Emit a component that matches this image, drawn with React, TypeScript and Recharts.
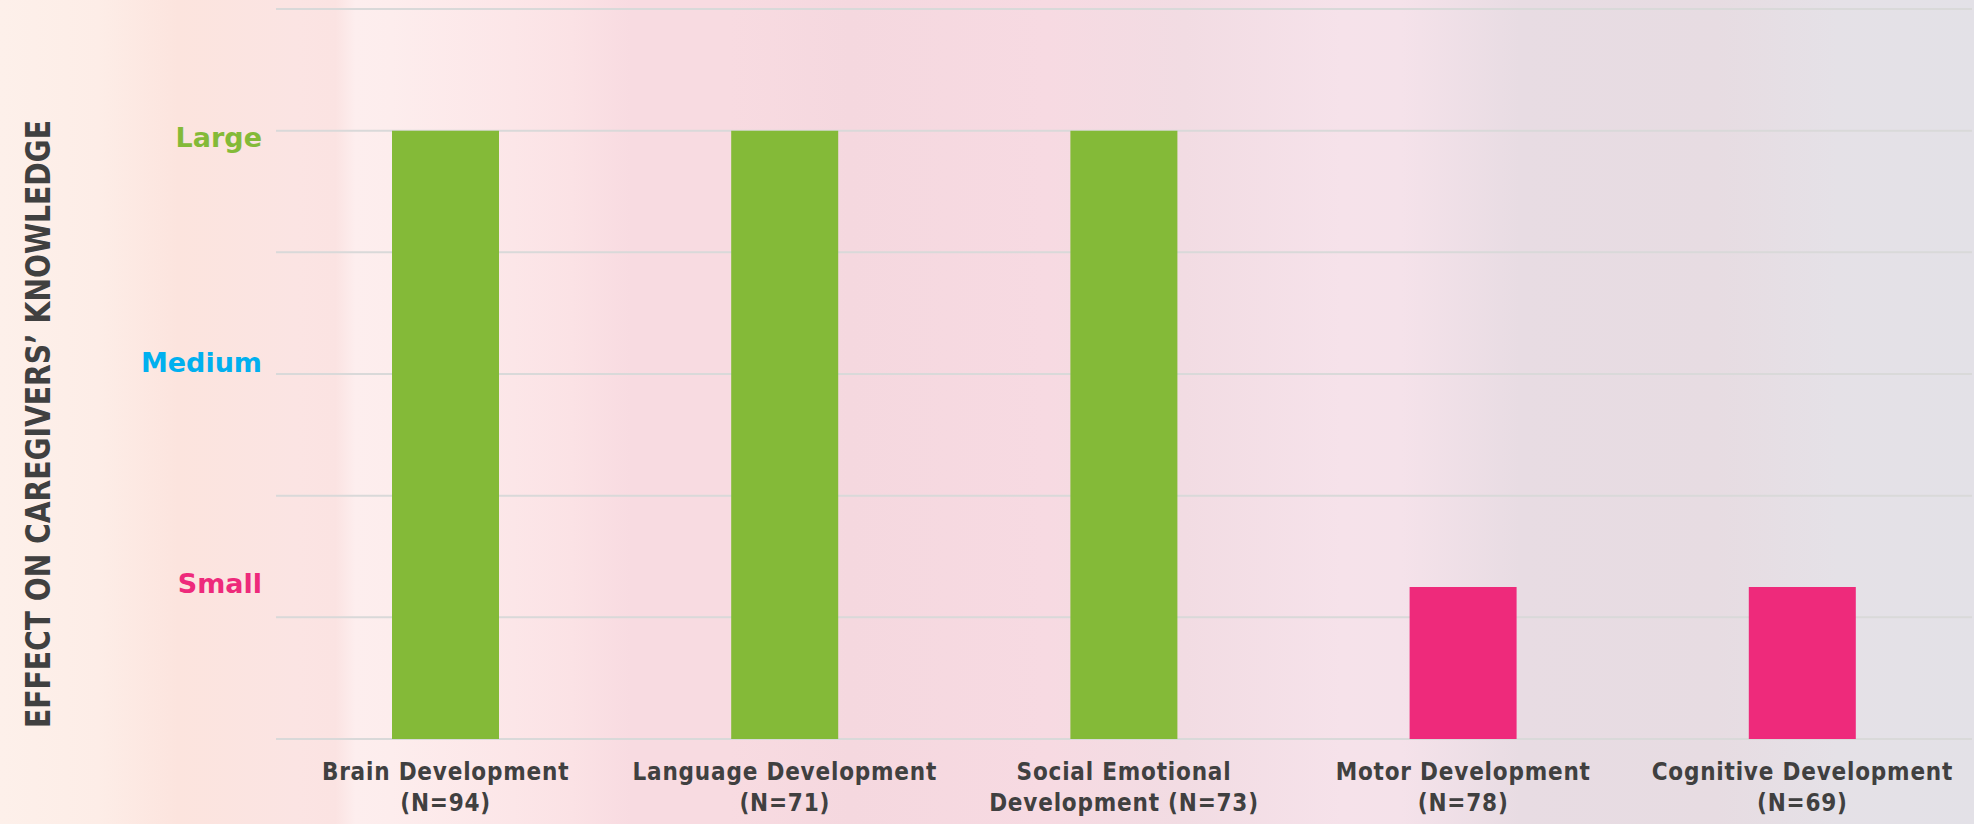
import React from 'react';
import { BarChart, Bar, XAxis, YAxis, CartesianGrid, Cell } from 'recharts';

const categories = ['Brain Development', 'Language Development', 'Social Emotional Development', 'Motor Development', 'Cognitive Development'];
const labelLine1 = ['Brain Development', 'Language Development', 'Social Emotional', 'Motor Development', 'Cognitive Development'];
const labelLine2 = ['(N=94)', '(N=71)', 'Development (N=73)', '(N=78)', '(N=69)'];
const effectValues = [5, 5, 5, 1.25, 1.25];
const effectLevels = ['Large', 'Large', 'Large', 'Small', 'Small'];
const gridValues = [0, 1, 2, 3, 4, 5, 6];
const yTickValues = [1.28, 3.1, 4.95];
const yTickLabels = ['Small', 'Medium', 'Large'];
const yTitle = 'EFFECT ON CAREGIVERS\u2019 KNOWLEDGE';

const levelColors: Record<string, string> = {
  Large: '#84BA38',
  Medium: '#00B0EF',
  Small: '#EE2A7B',
};

const data = categories.map((c, i) => ({
  name: c,
  line1: labelLine1[i],
  line2: labelLine2[i],
  value: effectValues[i],
  level: effectLevels[i],
}));

const condensed = "'DejaVu Sans Condensed', 'Liberation Sans Narrow', 'DejaVu Sans', sans-serif";
const geometric = "'DejaVu Sans', 'Lato', sans-serif";

const XTick = (props: any) => {
  const { x, y, index } = props;
  return (
    <g>
      <text x={x} y={y + 33} textAnchor="middle" fill="#404040" fontFamily={condensed} fontWeight="bold" fontSize={24} letterSpacing={0.8} style={{ fontStretch: 'condensed' }}>
        {labelLine1[index]}
      </text>
      <text x={x} y={y + 64} textAnchor="middle" fill="#404040" fontFamily={condensed} fontWeight="bold" fontSize={24} letterSpacing={0.8} style={{ fontStretch: 'condensed' }}>
        {labelLine2[index]}
      </text>
    </g>
  );
};

const YTick = (props: any) => {
  const { x, y, payload } = props;
  const i = yTickValues.indexOf(payload.value);
  const label = yTickLabels[i];
  return (
    <text x={x} y={y} dy={10} textAnchor="end" fill={levelColors[label]} fontFamily={geometric} fontWeight="bold" fontSize={27}>
      {label}
    </text>
  );
};

const YTitle = (props: any) => {
  const { viewBox } = props;
  const cx = viewBox.x + 38;
  const cy = viewBox.y + viewBox.height / 2 + 50;
  return (
    <text x={cx} y={cy} transform={`rotate(-90, ${cx}, ${cy})`} textAnchor="middle" dominantBaseline="central" fill="#404040" fontFamily={condensed} fontWeight="bold" fontSize={33} textLength={608} lengthAdjust="spacingAndGlyphs" style={{ fontStretch: 'condensed' }}>
      {yTitle}
    </text>
  );
};

const background =
  'linear-gradient(to right, #FDF0EA 0%, #FDEDE7 5%, #FCE4DE 9%, #FBE4E3 15%, #FBE3E2 17%, #FDEEEE 18%, #FDEDED 19.8%, #FCE6E8 26%, #FBE2E5 29%, #F8DBE1 32%, #F8DBE1 37%, #F5D8DF 43%, #F7DAE2 53%, #F2DCE3 60%, #F6E2EA 68%, #F5E2EA 71%, #E8DCE3 77%, #E7DCE2 87%, #E5E1E7 93%, #E3E1E7 100%)';

export default function App() {
  return (
    <div style={{ position: 'absolute', left: 0, top: 0, width: 1974, height: 824, background }}>
      <BarChart width={1974} height={824} data={data} margin={{ top: 9, right: 2, bottom: 0, left: 0 }}>
        <CartesianGrid vertical={false} horizontalValues={gridValues} stroke="#D9D9D9" strokeWidth={2} />
        <XAxis dataKey="name" axisLine={false} tickLine={false} height={85} interval={0} tick={<XTick />} />
        <YAxis
          width={276}
          domain={[0, 6]}
          ticks={yTickValues}
          axisLine={false}
          tickLine={false}
          tickSize={0}
          tickMargin={14}
          interval={0}
          tick={<YTick />}
          label={{ content: <YTitle /> } as any}
        />
        <Bar dataKey="value" barSize={107} isAnimationActive={false}>
          {data.map((d, i) => (
            <Cell key={i} fill={levelColors[d.level]} />
          ))}
        </Bar>
      </BarChart>
    </div>
  );
}
